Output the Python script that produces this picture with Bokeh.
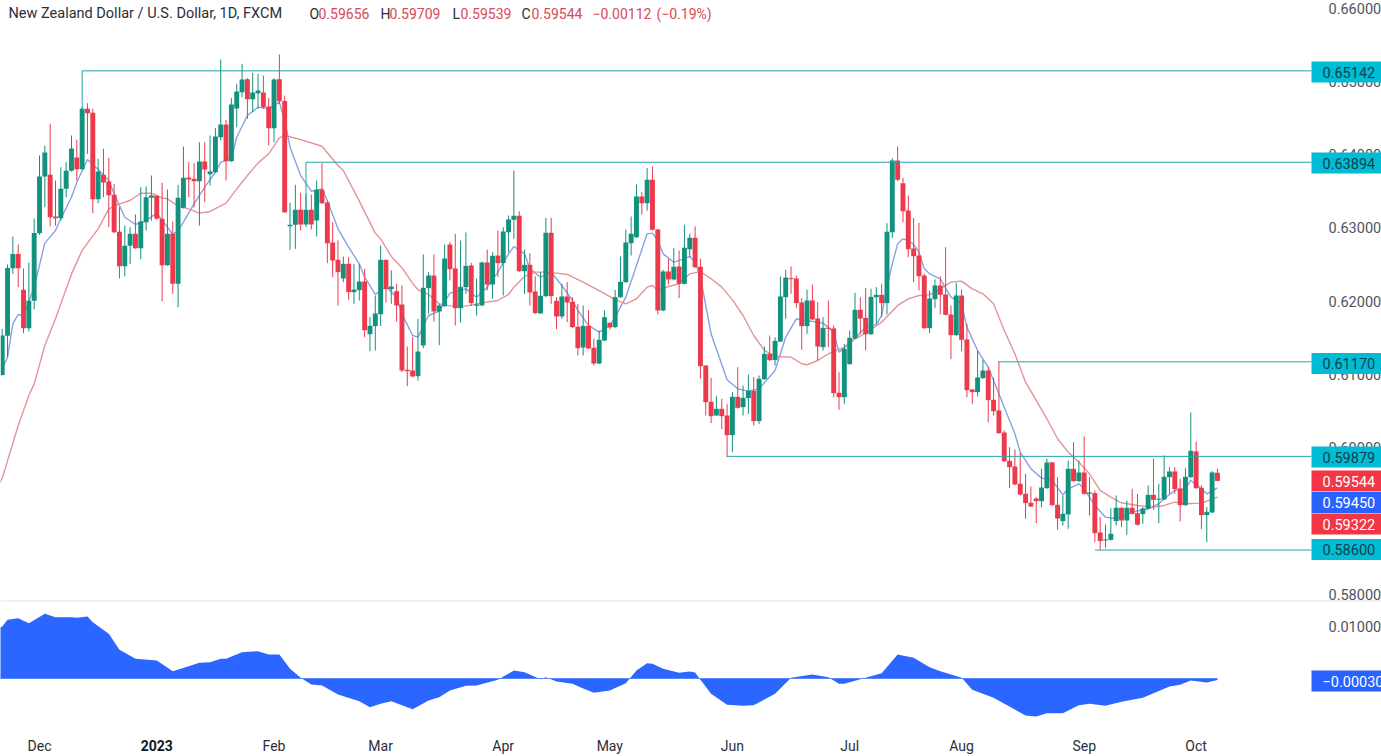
from bokeh.plotting import figure
from bokeh.layouts import column
from bokeh.models import Range1d, FixedTicker, Label, Span, ColumnDataSource, NumeralTickFormatter
from bokeh.core.properties import value
from bokeh.embed import file_html
from bokeh.resources import INLINE

open_prices = [
.60991,.61524,.62448,.62643,.62152,.61628,.62002,.62926,.63699,.63722,
.63153,.63130,.63531,.63777,.63959,.63799,.64623,.64569,.63390,.63722,
.63631,.63449,.62944,.62476,.62753,.62917,.62721,.63076,.63408,.63436,
.63122,.62489,.62917,.62234,.63272,.63686,.63668,.63636,.63904,.63731,
.63759,.64236,.64409,.63909,.64628,.64851,.65028,.64755,.64837,.64846,
.64655,.64359,.65028,.64732,.63022,.63040,.63245,.63044,.63245,.63098,
.63518,.63345,.62799,.62562,.62307,.62507,.62121,.62148,.62266,.61547,
.61657,.61820,.62562,.62162,.62134,.61952,.61061,.61051,.60974,.61393,
.62175,.62348,.61857,.61930,.62771,.62444,.61902,.62189,.62485,.61934,
.61939,.62526,.62225,.62621,.62517,.62940,.63108,.63163,.62407,.62494,
.62130,.61830,.62066,.62931,.62002,.61789,.62062,.61989,.61648,.61365,
.61661,.61361,.61147,.61461,.61702,.61643,.62052,.62257,.62790,.62871,
.63427,.63336,.63654,.62976,.61871,.62403,.62294,.62471,.62234,.62708,
.62862,.62467,.61120,.60624,.60437,.60528,.60437,.60169,.60692,.60551,
.60674,.60774,.60360,.60933,.61279,.61193,.61447,.62052,.62312,.62307,
.61980,.61657,.62007,.61761,.61370,.61634,.61625,.60747,.60687,.61138,
.61488,.61880,.61770,.61547,.62052,.62084,.61971,.62940,.63918,.63609,
.63235,.62717,.62621,.62348,.61629,.62025,.62212,.62089,.61816,.61534,
.62075,.61475,.60792,.60756,.60947,.61051,.60651,.60505,.60205,.59818,
.59741,.59505,.59368,.59245,.59304,.59268,.59445,.59796,.59218,.58995,
.59086,.59709,.59541,.59659,.59368,.59377,.58840,.58731,.58740,.58995,
.59177,.59004,.59177,.59104,.59091,.59163,.59354,.59286,.59291,.59595,
.59673,.59441,.59213,.59595,.59946,.59450,.59077,.59113,.59656]
high_prices = [
.61619,.62498,.62880,.62771,.62443,.62525,.63126,.63986,.64122,.64418,
.63645,.63826,.63895,.64259,.64204,.64646,.64700,.64623,.63941,.64077,
.63954,.63599,.63280,.63030,.63008,.63181,.63554,.63563,.63713,.63440,
.63613,.63522,.63085,.63586,.64109,.63895,.63882,.64168,.64168,.64259,
.64364,.65297,.64473,.64769,.64964,.65237,.65042,.65115,.65101,.65078,
.64773,.65042,.65365,.64805,.63340,.63586,.63477,.63463,.63454,.63645,
.63882,.63372,.63076,.62826,.62608,.62598,.62507,.62507,.62439,.61779,
.62075,.62758,.62567,.62416,.62234,.62212,.61379,.61506,.61757,.62635,
.62394,.62635,.61961,.62771,.62803,.62917,.62826,.62935,.62521,.62303,
.62539,.62703,.62667,.62962,.63008,.63167,.63781,.63226,.62703,.62653,
.62335,.62394,.63135,.63135,.62052,.62234,.62257,.62052,.61961,.61939,
.61871,.61484,.61597,.61871,.61711,.62153,.62608,.62976,.63154,.63590,
.63486,.63813,.63836,.62985,.62426,.62576,.62726,.62689,.63040,.62917,
.63017,.62576,.61120,.60951,.60701,.60665,.60596,.60756,.61097,.60847,
.60997,.60961,.60983,.61379,.61529,.61506,.62339,.62426,.62471,.62348,
.62039,.62157,.62225,.61985,.61779,.62007,.61666,.61029,.61415,.61597,
.62112,.62052,.62180,.62166,.62189,.62234,.63063,.63950,.64109,.63681,
.63440,.63135,.63067,.62371,.62143,.62294,.62335,.62735,.61939,.62248,
.62157,.61689,.60792,.61324,.61197,.61097,.60951,.61179,.60233,.60005,
.59973,.59928,.59641,.59468,.59322,.59709,.59846,.59805,.59596,.59345,
.59823,.60073,.59823,.60151,.59596,.59413,.59050,.58949,.59172,.59345,
.59186,.59277,.59436,.59368,.59186,.59482,.59846,.59505,.59891,.59732,
.59732,.59573,.59718,.60478,.60082,.59482,.59186,.59677,.59709]
low_prices = [
.60982,.61233,.62370,.62188,.61560,.61587,.61888,.62903,.63280,.63021,
.63030,.63098,.63417,.63767,.63645,.63795,.64009,.63199,.63336,.63417,
.63008,.62926,.62307,.62335,.62507,.62712,.62571,.62962,.63098,.63113,
.61998,.62480,.62098,.61916,.63263,.63417,.63280,.63030,.63349,.63577,
.63750,.64191,.63645,.63900,.64373,.64782,.64487,.64578,.64623,.64623,
.64122,.64168,.64691,.63204,.62699,.62712,.62962,.63008,.62976,.62880,
.63326,.62517,.62326,.61939,.62257,.62016,.61961,.62007,.61506,.61315,
.61324,.61657,.61975,.61961,.61720,.61029,.60838,.60960,.60915,.61356,
.61825,.61720,.61397,.61921,.62280,.61666,.61702,.62098,.61930,.61802,
.61930,.62143,.62030,.62325,.62075,.62667,.62849,.62394,.62098,.61939,
.61825,.61825,.62052,.61961,.61616,.61757,.61711,.61634,.61256,.61256,
.61347,.61120,.61138,.61452,.61611,.61634,.62043,.62248,.62621,.62862,
.63181,.63235,.62962,.61816,.61861,.62225,.62280,.62039,.62225,.62598,
.62448,.60938,.60437,.60333,.60433,.60251,.59868,.59937,.60533,.60437,
.60460,.60301,.60324,.60924,.61179,.61120,.61438,.61757,.62098,.61907,
.61334,.61552,.61743,.61188,.61324,.61370,.60687,.60515,.60596,.61129,
.61479,.61552,.61324,.61538,.61688,.61779,.61816,.62862,.63636,.63076,
.62598,.62257,.62143,.61620,.61561,.61902,.61816,.61802,.61206,.61525,
.61315,.60687,.60596,.60697,.60938,.60346,.60437,.60187,.59800,.59445,
.59486,.59345,.59027,.59186,.58968,.59186,.59436,.59204,.58877,.58936,
.58890,.59532,.59532,.59354,.59072,.58708,.58604,.58631,.58731,.58936,
.58913,.58808,.59086,.58936,.58959,.59154,.59150,.58968,.59282,.59368,
.59368,.58991,.59204,.59586,.59436,.58886,.58708,.59104,.59539]
close_prices = [
.61528,.62452,.62643,.62448,.61628,.62002,.62930,.63699,.64027,.63144,
.63130,.63531,.63777,.64081,.63799,.64623,.64564,.63390,.63768,.63618,
.63445,.62940,.62476,.62753,.62917,.62721,.63085,.63417,.63440,.63122,
.62489,.62917,.62234,.63408,.63681,.63659,.63636,.63904,.63795,.63768,
.64246,.64409,.63909,.64682,.64860,.65024,.64755,.64846,.64873,.64646,
.64359,.65024,.64728,.63213,.63040,.63245,.63044,.63245,.63044,.63518,
.63336,.62790,.62553,.62394,.62507,.62121,.62157,.62266,.61602,.61661,
.61830,.62562,.62162,.62198,.61939,.61051,.61042,.60970,.61311,.62180,
.62348,.61857,.61939,.62580,.62435,.61902,.62194,.62480,.61971,.61952,
.62526,.62225,.62617,.62517,.62949,.63113,.63163,.62407,.62494,.62116,
.61834,.62071,.62931,.62066,.61789,.62062,.61980,.61643,.61356,.61661,
.61352,.61147,.61470,.61779,.61638,.62052,.62262,.62799,.62917,.63427,
.63336,.63654,.62972,.61871,.62403,.62294,.62467,.62234,.62726,.62862,
.62462,.61111,.60619,.60428,.60528,.60428,.60169,.60692,.60542,.60678,
.60774,.60360,.60938,.61279,.61193,.61456,.62062,.62321,.62298,.61971,
.61657,.62007,.61748,.61379,.61634,.61620,.60742,.60687,.61347,.61497,
.61880,.61761,.61547,.62057,.62084,.61971,.62944,.63918,.63654,.63226,
.62708,.62612,.62339,.61629,.62034,.62212,.62084,.61811,.61534,.62075,
.61470,.60783,.60756,.60956,.61051,.60647,.60496,.60196,.59814,.59732,
.59495,.59359,.59241,.59195,.59268,.59454,.59796,.59213,.59031,.59095,
.59709,.59541,.59659,.59368,.59386,.58831,.58722,.58745,.58822,.59177,
.59004,.59177,.59095,.58945,.59168,.59354,.59286,.59300,.59600,.59673,
.59432,.59213,.59600,.59955,.59445,.59077,.59122,.59659,.59544]

fast_ma_idx = [0,1,2,3,4,6,8,10,11,13,14,16,18,20,21,23,25,27,29,31,32,33,34,36,38,40,41,43,44,46,48,50,52,53,54,56,58,60,61,63,
65,67,68,70,72,74,75,77,78,80,82,84,87,89,91,93,95,96,98,99,101,103,105,107,108,110,112,114,115,117,119,121,122,123,124,126,128,129,130,131,
133,136,138,140,142,145,147,149,151,154,156,157,159,162,164,165,166,167,168,169,170,171,172,173,174,176,178,180,181,183,185,187,188,190,191,193,195,197,199,200,
202,203,205,207,209,212,215,217,218,220,222,223,225,226,228]
fast_ma_val = [.61074,.61233,.61688,.61816,.61802,.62188,.62790,.62962,.63122,.63417,.63622,.63932,.63795,.63645,.63463,.63144,.63044,.63098,.63199,.63008,.62908,.62962,.63076,.63326,.63554,.63759,.63895,.63941,.64236,.64532,.64646,.64623,.64714,.64464,.64100,.63713,.63499,.63531,.63372,.62985,
.62735,.62507,.62325,.62089,.62198,.62052,.61825,.61529,.61506,.61802,.61861,.62107,.62166,.62052,.62189,.62394,.62644,.62744,.62644,.62439,.62325,.62394,.62212,.62007,.61871,.61666,.61575,.61666,.61779,.62052,.62485,.62917,.62926,.62826,.62644,.62530,.62576,.62608,.62530,.62325,
.61552,.60924,.60801,.60769,.60801,.61051,.61506,.61757,.61734,.61698,.61575,.61302,.61416,.61643,.61680,.61802,.62189,.62507,.62780,.62849,.62826,.62771,.62667,.62439,.62371,.62303,.62052,.61961,.61643,.61324,.61097,.60733,.60551,.60187,.59937,.59709,.59582,.59550,.59354,.59436,
.59504,.59436,.59209,.59049,.59027,.59118,.59163,.59232,.59300,.59414,.59436,.59550,.59436,.59368,.59450]

slow_ma_idx = [-1,0,3,5,6,8,10,13,15,18,20,22,24,26,28,30,31,33,35,37,39,42,44,46,48,50,52,53,56,60,63,
64,67,70,71,73,75,77,78,80,82,84,87,90,93,95,96,98,100,102,104,106,109,112,115,117,119,121,122,123,125,
127,129,131,133,135,137,139,141,143,145,148,150,151,153,155,158,160,162,165,168,170,172,174,176,178,180,182,184,186,188,
190,192,194,196,198,200,202,204,206,208,210,213,216,218,220,222,225,228]
slow_ma_val = [.59440,.59578,.60301,.60711,.60869,.61393,.61757,.62370,.62690,.62985,.63258,.63326,.63372,.63472,.63472,.63404,.63395,.63295,.63258,.63199,.63222,.63336,.63531,.63713,.63882,.64009,.64227,.64259,.64204,.64113,.63850,
.63781,.63363,.62926,.62849,.62608,.62453,.62244,.62153,.62089,.61961,.61934,.61930,.61975,.62007,.62089,.62189,.62335,.62394,.62394,.62380,.62362,.62257,.62143,.62020,.61961,.62030,.62189,.62212,.62143,.62198,
.62234,.62371,.62403,.62303,.62189,.62016,.61802,.61529,.61325,.61243,.61234,.61143,.61129,.61188,.61279,.61370,.61484,.61561,.61711,.61939,.62030,.62075,.62084,.62166,.62257,.62271,.62166,.62098,.61961,.61597,
.61279,.60892,.60642,.60392,.60119,.59937,.59800,.59641,.59414,.59323,.59245,.59209,.59186,.59209,.59254,.59232,.59241,.59322]

osc_idx = [-1,0,1,3,5,8,10,13,14,16,17,20,22,25,29,32,35,37,39,41,42,45,48,50,52,54,56,58,60,63,67,69,71,73,77,80,82,84,87,89,93,96,98,101,102,104,107,109,111,114,117,119,121,122,124,127,
129,130,131,133,136,139,141,145,148,152,155,157,158,161,165,168,171,174,176,180,182,186,192,194,196,199,202,204,207,210,214,219,221,223,226,228]
osc_val = [.0095,.0100,.01128,.0116,.01064,.01244,.01179,.01179,.01167,.01192,.01083,.00859,.00551,.00378,.00346,.00141,.00237,.00301,.00314,.00378,.00378,.00506,.00526,.00462,.00462,.00186,.00013,-.00115,-.00135,-.00308,-.00436,-.00551,-.00487,-.00436,-.0059,-.00423,-.00359,-.00231,-.00141,-.00135,-.00026,.00154,.00122,-.00013,.00026,-.00058,-.00103,-.00192,-.00276,-.00231,-.0009,.00154,.00295,.00282,.00186,.00109,
.00135,.00115,-.00026,-.00295,-.00506,-.00526,-.00513,-.00295,.00013,.00077,.00026,-.00103,-.00103,-.00013,.00103,.00462,.00397,.00218,.00141,.00013,-.00218,-.00372,-.00712,-.00731,-.00667,-.00667,-.00513,-.00487,-.00526,-.00449,-.00372,-.00154,-.00122,-.00038,-.00077,-.0003]

month_ticks = [7,51,71,94,114,137,159,180,203,224]
month_labels = ["Dec","Feb","Mar","Apr","May","Jun","Jul","Aug","Sep","Oct"]
year_tick = 29
year_label = "2023"
price_ticks = [.58,.59,.60,.61,.62,.63,.64,.65,.66]
osc_ticks = [.01]

swing_levels = [.65142,.63894,.61170,.59879,.58600]
swing_starts = [15,57,187,136,205]
swing_anchor = [.64623,.63245,None,None,None]

header_title = "New Zealand Dollar / U.S. Dollar, 1D, FXCM"
ohlc_parts = [("O",309,False),("0.59656",318,True),("H",380,False),("0.59709",389,True),("L",452,False),("0.59539",460,True),
              ("C",521,False),("0.59544",531,True),("\u22120.00112",592,True),("(\u22120.19%)",656,True)]

W, H1, H2 = 1381, 604, 152
PX, X0 = 5.33, 1.7
FONT = "Roboto"
UP, DOWN = "#12917d", "#ec3a4c"
TEAL, CYAN = "#22a5ac", "#00bcd4"

def xd(px): return (px - X0) / PX
def yd(py): return .66 - (py - 7.5) / 7325
def yo(py): return (678 - py) / 5200

p = figure(width=W, height=H1, output_backend="svg", toolbar_location=None,
           x_range=Range1d(xd(0), xd(W)), y_range=Range1d(yd(H1), yd(0)),
           x_axis_location=None, y_axis_location="right",
           min_border_left=0, min_border_right=0, min_border_top=0, min_border_bottom=0,
           frame_width=W, frame_height=H1, outline_line_color=None, background_fill_color="white")
p.grid.visible = False
ax = p.yaxis[0]
ax.fixed_location = xd(1311)
ax.ticker = FixedTicker(ticks=price_ticks)
ax.formatter = NumeralTickFormatter(format="0.00000")
ax.axis_line_color = None
ax.major_tick_line_color = None
ax.minor_tick_line_color = None
ax.major_label_standoff = 11
ax.major_label_text_font = FONT
ax.major_label_text_font_size = "14.5px"
ax.major_label_text_color = "#50535e"

p.add_layout(Span(location=yd(600.5), dimension="width", line_color="#e0e3eb", line_width=1))

p.line(fast_ma_idx, fast_ma_val, line_color="#86a3e2", line_width=1.4)
p.line(slow_ma_idx, slow_ma_val, line_color="#e39496", line_width=1.4)

idx = list(range(len(close_prices)))
colors = [UP if c >= o else DOWN for o, c in zip(open_prices, close_prices)]
src = ColumnDataSource(dict(x=idx, o=open_prices, h=high_prices, l=low_prices, c=close_prices, col=colors,
                            top=[max(a, b) for a, b in zip(open_prices, close_prices)],
                            bot=[min(a, b) for a, b in zip(open_prices, close_prices)]))
p.segment("x", "h", "x", "l", source=src, line_color="col", line_width=1)
p.vbar("x", 0.92, "bot", "top", source=src, fill_color="col", line_color=None)

for lvl, s, a in zip(swing_levels, swing_starts, swing_anchor):
    p.line([s, xd(1311)], [lvl, lvl], line_color=TEAL, line_width=1)
    if a is not None:
        p.line([s, s], [lvl, a], line_color=TEAL, line_width=1)

flag_py = [71.5, 162.5, 363, 456.5, 480.5, 502, 523.5, 549]
flag_txt = ["0.65142", "0.63894", "0.61170", "0.59879", "0.59544", "0.59450", "0.59322", "0.58600"]
flag_bg = [CYAN, CYAN, CYAN, CYAN, "#f23645", "#2962ff", "#f23645", CYAN]
flag_fg = ["#10414f", "#10414f", "#10414f", "#10414f", "#ffffff", "#ffffff", "#ffffff", "#10414f"]
fsrc = ColumnDataSource(dict(left=[xd(1311)] * 8, right=[xd(W)] * 8,
                             top=[yd(v - 10.5) for v in flag_py], bottom=[yd(v + 10.5) for v in flag_py],
                             x=[xd(1322)] * 8, y=[yd(v) for v in flag_py], t=flag_txt, bg=flag_bg, fg=flag_fg))
p.quad("left", "right", "top", "bottom", source=fsrc, fill_color="bg", line_color=None, level="overlay")
p.text("x", "y", "t", source=fsrc, text_color="fg", text_font=value(FONT), text_font_size=value("14.5px"),
       text_baseline="middle", level="overlay")

p.add_layout(Label(x=xd(8), y=yd(13), text=header_title, text_font=FONT, text_font_size="14.5px",
                   text_color="#2a2e39", text_baseline="middle"))
for t, px, red in ohlc_parts:
    p.add_layout(Label(x=xd(px), y=yd(13), text=t, text_font=FONT, text_font_size="14px",
                       text_color="#d64a58" if red else "#2a2e39", text_baseline="middle"))

q = figure(width=W, height=H2, output_backend="svg", toolbar_location=None,
           x_range=p.x_range, y_range=Range1d(yo(756), yo(604)),
           y_axis_location="right", x_axis_location="below",
           min_border_left=0, min_border_right=0, min_border_top=0, min_border_bottom=0,
           frame_width=W, frame_height=H2, outline_line_color=None, background_fill_color="white")
q.grid.visible = False
qa = q.yaxis[0]
qa.fixed_location = xd(1311)
qa.ticker = FixedTicker(ticks=osc_ticks)
qa.formatter = NumeralTickFormatter(format="0.00000")
qa.axis_line_color = None
qa.major_tick_line_color = None
qa.minor_tick_line_color = None
qa.major_label_standoff = 11
qa.major_label_text_font = FONT
qa.major_label_text_font_size = "14.5px"
qa.major_label_text_color = "#50535e"

q.varea(osc_idx, [0] * len(osc_idx), osc_val, fill_color="#2a66ff")
q.line([-1, len(close_prices) - 1], [0, 0], line_color="#5a88ff", line_width=1)

xa = q.xaxis[0]
xa.fixed_location = yo(724)
xa.ticker = FixedTicker(ticks=month_ticks)
xa.major_label_overrides = {t: l for t, l in zip(month_ticks, month_labels)}
xa.axis_line_color = None
xa.major_tick_line_color = None
xa.minor_tick_line_color = None
xa.major_label_standoff = 7
xa.major_label_text_font = FONT
xa.major_label_text_font_size = "14px"
xa.major_label_text_color = "#2a2e39"
q.add_layout(Label(x=year_tick, y=yo(745), text=year_label, text_font=FONT, text_font_size="14px",
                   text_font_style="bold", text_color="#131722", text_align="center", text_baseline="middle"))

fq = ColumnDataSource(dict(left=[xd(1311)], right=[xd(W)], top=[yo(670)], bottom=[yo(691)],
                           x=[xd(1322)], y=[yo(680.5)], t=["\u22120.00030"]))
q.quad("left", "right", "top", "bottom", source=fq, fill_color="#2962ff", line_color=None, level="overlay")
q.text("x", "y", "t", source=fq, text_color="#ffffff", text_font=value(FONT), text_font_size=value("14.5px"),
       text_baseline="middle", level="overlay")

layout = column(p, q, spacing=0)
open("out.html", "w").write(file_html(layout, INLINE))
